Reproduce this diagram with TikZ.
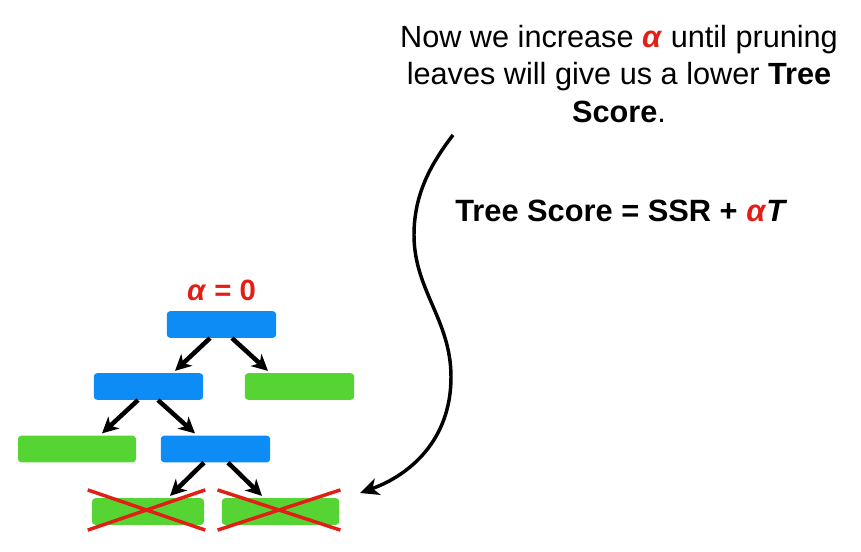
\documentclass[tikz,border=0pt]{standalone}
\usepackage{fontspec}
\setmainfont{Liberation Sans}
\usepackage{tikz}
\usetikzlibrary{positioning, arrows.meta, calc}
\definecolor{splitblue}{RGB}{14,140,245}
\definecolor{leafgreen}{RGB}{86,212,52}
\definecolor{alphared}{RGB}{226,30,22}
\newcommand{\alphasym}{\textcolor{alphared}{\textbf{\textit{α}}}}

\begin{document}
\begin{tikzpicture}[
    x=0.75pt, y=-0.75pt,
    split/.style = {rectangle, rounded corners=2.5pt, fill=splitblue, minimum width=82pt, minimum height=20pt, inner sep=0pt},
    leaf/.style  = {rectangle, rounded corners=2.5pt, fill=leafgreen, minimum width=82pt, minimum height=20pt, inner sep=0pt},
    arrow/.style = {-{Stealth[length=12pt, width=12pt, inset=3.5pt]}, line width=3.4pt},
    cross/.style = {draw=alphared, line width=2.6pt},
    wave/.style  = {-{Stealth[length=14pt, width=13pt, inset=4pt]}, line width=2.6pt}
]
\useasboundingbox (0,0) rectangle (861,552);
% the tree
\node[split]                       (root) at (221.5,324.5) {};
\node[split]                       (L)    at (148.5,386.5) {};
\node[leaf]                        (R)    at (299.5,386.5) {};
\node[leaf, minimum width=88.5pt]  (LL)   at (77,449)      {};
\node[split]                       (LR)   at (215.5,449)   {};
\node[leaf, minimum width=84pt]    (X1)   at (148,511.5)   {};
\node[leaf, minimum width=88pt]    (X2)   at (280.5,511.5) {};
\node[above=7pt of root, font=\fontsize{22}{26}\selectfont\bfseries, text=alphared, inner sep=0pt] (alpha0) {\textit{α} = 0};
% pruned leaves
\foreach \n in {X1, X2} {
  \draw[cross] ($(\n.north west)+(-4,-8)$) -- ($(\n.south east)+(1,5)$);
  \draw[cross] ($(\n.south west)+(-4,5)$) -- ($(\n.north east)+(1,-8)$);
}
\foreach \a/\b/\s/\e in {root/L/-11.5/26.5, root/R/10.5/-31.5, L/LL/-10.5/25, L/LR/9.5/-20.5, LR/X1/-11.5/22, LR/X2/12.5/-18.5}
  \draw[arrow] ($(\a.south)+(\s,0)$) -- ($(\b.north)+(\e,-2)$);
% text
\node[font=\fontsize{23}{27.8}\selectfont, align=center] (note) at (619,74)
  {Now we increase \alphasym{} until pruning\\leaves will give us a lower \textbf{Tree}\\\textbf{Score}.};
\node[font=\fontsize{23.1}{27}\selectfont\bfseries, anchor=base west, inner sep=0pt] (score) at (455,222)
  {Tree Score = SSR + \textcolor{alphared}{\textit{α}}\textit{T}};
% the wavy arrow
\coordinate (wavetop) at (453,135);
\coordinate (wavetip) at (360,493);
\draw[wave] (wavetop) .. controls (430,165) and (414,195) .. (414,235)
  .. controls (414,290) and (451,320) .. (451,377)
  .. controls (451,440) and (410,475) .. (wavetip);
\end{tikzpicture}
\end{document}
